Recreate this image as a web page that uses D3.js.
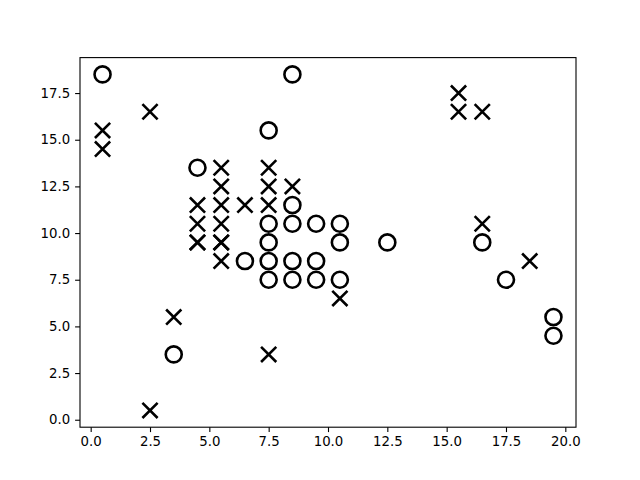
<!DOCTYPE html>
<html>
<head>
<meta charset="utf-8">
<script src="https://cdn.jsdelivr.net/npm/d3@7"></script>
<style>
  body { margin: 0; background: #fff; }
  svg text { font-family: "DejaVu Sans", sans-serif; }
</style>
</head>
<body>
<svg id="chart" width="640" height="480"></svg>
<script>
// circle markers
const circleX = [0.5, 8.5, 7.5, 4.5, 8.5, 7.5, 8.5, 9.5, 10.5, 7.5, 10.5, 12.5, 16.5,
                 6.5, 7.5, 8.5, 9.5, 7.5, 8.5, 9.5, 10.5, 17.5, 19.5, 19.5, 3.5];
const circleY = [18.5, 18.5, 15.5, 13.5, 11.5, 10.5, 10.5, 10.5, 10.5, 9.5, 9.5, 9.5, 9.5,
                 8.5, 8.5, 8.5, 8.5, 7.5, 7.5, 7.5, 7.5, 7.5, 5.5, 4.5, 3.5];
// cross markers (4.5/5.5 at 9.5 appear twice)
const crossX = [0.5, 0.5, 2.5, 15.5, 15.5, 16.5, 5.5, 7.5, 5.5, 7.5, 8.5,
                4.5, 5.5, 6.5, 7.5, 4.5, 5.5, 16.5, 4.5, 4.5, 5.5, 5.5,
                5.5, 18.5, 10.5, 3.5, 7.5, 2.5];
const crossY = [15.5, 14.5, 16.5, 17.5, 16.5, 16.5, 13.5, 13.5, 12.5, 12.5, 12.5,
                11.5, 11.5, 11.5, 11.5, 10.5, 10.5, 10.5, 9.5, 9.5, 9.5, 9.5,
                8.5, 8.5, 6.5, 5.5, 3.5, 0.5];
const xTicks = [0, 2.5, 5, 7.5, 10, 12.5, 15, 17.5, 20];
const yTicks = [0, 2.5, 5, 7.5, 10, 12.5, 15, 17.5];

const svg = d3.select("#chart");
const mLeft = 80, mRight = 576, mTop = 57.6, mBottom = 427.2;

const x = d3.scaleLinear().domain([-0.45, 20.45]).range([mLeft, mRight]);
const y = d3.scaleLinear().domain([-0.4, 19.4]).range([mBottom, mTop]);

const g = svg.append("g");

// markers
g.selectAll("circle.pt")
  .data(d3.range(circleX.length))
  .enter()
  .append("circle")
  .attr("class", "pt")
  .attr("cx", i => x(circleX[i]))
  .attr("cy", i => y(circleY[i]))
  .attr("r", 8)
  .attr("fill", "none")
  .attr("stroke", "#000")
  .attr("stroke-width", 2.6);

const s = 7.6;
g.selectAll("path.cross")
  .data(d3.range(crossX.length))
  .enter()
  .append("path")
  .attr("class", "cross")
  .attr("d", i => {
    const cx = x(crossX[i]), cy = y(crossY[i]);
    return `M${cx - s},${cy - s}L${cx + s},${cy + s}M${cx - s},${cy + s}L${cx + s},${cy - s}`;
  })
  .attr("fill", "none")
  .attr("stroke", "#000")
  .attr("stroke-width", 2.6);

// axes
const xAxis = d3.axisBottom(x).tickValues(xTicks).tickFormat(d3.format(".1f")).tickSizeOuter(0).tickSize(4.9).tickPadding(4.9);
const yAxis = d3.axisLeft(y).tickValues(yTicks).tickFormat(d3.format(".1f")).tickSizeOuter(0).tickSize(4.9).tickPadding(4.9);

const xg = svg.append("g").attr("transform", `translate(0,${mBottom})`).call(xAxis);
const yg = svg.append("g").attr("transform", `translate(${mLeft},0)`).call(yAxis);
[xg, yg].forEach(a => {
  a.select(".domain").remove();
  a.selectAll("line").attr("stroke", "#000").attr("stroke-width", 1.1);
  a.selectAll("text").attr("font-size", "13.3px").attr("fill", "#000").attr("font-family", "DejaVu Sans, sans-serif");
});

// frame
svg.append("rect")
  .attr("x", mLeft).attr("y", mTop)
  .attr("width", mRight - mLeft).attr("height", mBottom - mTop)
  .attr("fill", "none").attr("stroke", "#000").attr("stroke-width", 1.1);
</script>
</body>
</html>
